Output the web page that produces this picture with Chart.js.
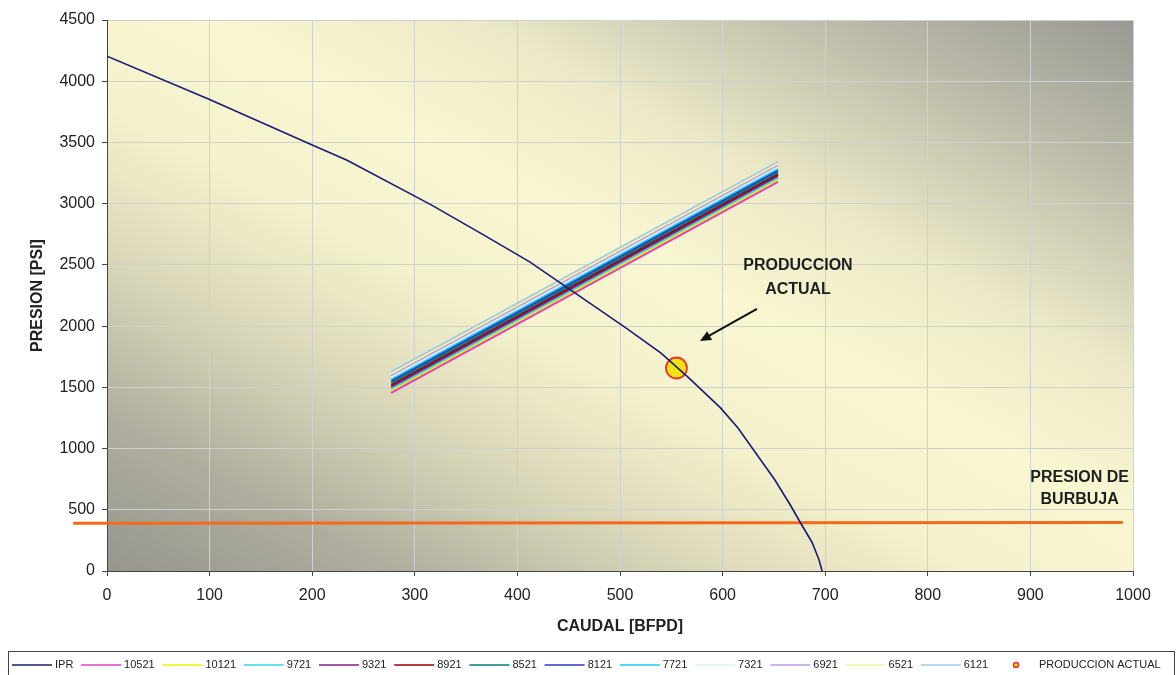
<!DOCTYPE html>
<html>
<head>
<meta charset="utf-8">
<style>
  html, body { margin: 0; padding: 0; background: #ffffff; }
  #wrap { width: 1176px; height: 675px; position: relative; }
</style>
<script src="https://cdn.jsdelivr.net/npm/chart.js@4.4.1/dist/chart.umd.min.js"></script>
</head>
<body>
<div id="wrap"><canvas id="chart" width="1176" height="675"></canvas></div>
<script>
// Inflow performance curve (IPR): caudal [BFPD] vs presion [psi]
const iprQ = [0, 100, 200, 234, 316, 367, 412, 505, 540, 566, 598, 615, 651, 666, 676, 687, 691, 694, 697];
const iprP = [4205, 3850, 3480, 3355, 2990, 2745, 2525, 1990, 1780, 1585, 1332, 1168, 743, 539, 392, 237, 155, 90, 0];

// Outflow curves, one per frequency/setting label
const vlpQ = [277, 654];
const vlpLabels = ['10521', '10121', '9721', '9321', '8921', '8521', '8121', '7721', '7321', '6921', '6521', '6121'];
const vlp10521 = [1454, 3178];
const vlp10121 = [1470, 3193];
const vlp9721  = [1485, 3208];
const vlp9321  = [1501, 3222];
const vlp8921  = [1516, 3237];
const vlp8521  = [1532, 3252];
const vlp8121  = [1548, 3267];
const vlp7721  = [1563, 3282];
const vlp7321  = [1579, 3296];
const vlp6921  = [1594, 3311];
const vlp6521  = [1610, 3326];
const vlp6121  = [1626, 3341];
const vlpColors = ['#e040c8', '#f2f000', '#33d6e8', '#8a1a8a', '#990000', '#008080', '#2a3ab8', '#19c8f5', '#d4f4f8', '#c49ae8', '#f6f29a', '#9cc8f0'];

// Bubble point pressure line
const burbujaQ = [-33, 990];
const burbujaP = [390, 396];

// Current operating point
const actualQ = [555];
const actualP = [1658];

const xTicks = [0, 100, 200, 300, 400, 500, 600, 700, 800, 900, 1000];
const yTicks = [0, 500, 1000, 1500, 2000, 2500, 3000, 3500, 4000, 4500];

const FONT = '"Liberation Sans", Arial, sans-serif';
const pts = (xs, ys) => xs.map((x, i) => ({ x: x, y: ys[i] }));

const vlpSeries = [vlp10521, vlp10121, vlp9721, vlp9321, vlp8921, vlp8521, vlp8121, vlp7721, vlp7321, vlp6921, vlp6521, vlp6121];

const datasets = [
  { label: 'IPR', data: pts(iprQ, iprP), borderColor: '#1a1a78', borderWidth: 1.6, legendType: 'line' }
];
vlpSeries.forEach((s, i) => {
  datasets.push({ label: vlpLabels[i], data: pts(vlpQ, s), borderColor: vlpColors[i], borderWidth: 2, legendType: 'line' });
});
datasets.push({ label: 'PRESION DE BURBUJA', data: pts(burbujaQ, burbujaP), borderColor: '#f4691e', borderWidth: 3, clip: false, legendType: 'none' });
datasets.push({
  label: 'PRODUCCION ACTUAL', data: pts(actualQ, actualP), showLine: false,
  pointRadius: 10.5, pointHoverRadius: 10.5, pointBackgroundColor: '#f2e412', pointBorderColor: '#e8322c', pointBorderWidth: 1.8,
  legendType: 'point'
});
datasets.forEach(d => {
  if (d.showLine === undefined) d.showLine = true;
  if (d.pointRadius === undefined) d.pointRadius = 0;
  d.fill = false;
  d.tension = 0;
});

// Diagonal gray-cream-gray fill behind the plot area
const plotBackground = {
  id: 'plotBackground',
  beforeDraw(chart) {
    const { ctx, chartArea: a } = chart;
    ctx.save();
    ctx.fillStyle = '#ffffff';
    ctx.fillRect(0, 0, chart.width, chart.height);
    const w = a.right - a.left, h = a.bottom - a.top;
    const cx = (a.left + a.right) / 2, cy = (a.top + a.bottom) / 2;
    const len = Math.hypot(h, w);
    const ux = h / len, uy = -w / len;
    const half = (w / 2) * ux + (-h / 2) * uy;
    const g = ctx.createLinearGradient(cx - ux * half, cy - uy * half, cx + ux * half, cy + uy * half);
    g.addColorStop(0.00, '#96968f');
    g.addColorStop(0.14, '#afae9e');
    g.addColorStop(0.28, '#d8d6b8');
    g.addColorStop(0.42, '#f4f2cc');
    g.addColorStop(0.55, '#f9f7d2');
    g.addColorStop(0.68, '#ebe9c7');
    g.addColorStop(0.83, '#c2c1ad');
    g.addColorStop(1.00, '#999994');
    ctx.fillStyle = g;
    ctx.fillRect(a.left, a.top, w, h);
    ctx.restore();
  }
};

// Text labels and arrow drawn at data positions
const notes = {
  id: 'notes',
  afterDatasetsDraw(chart) {
    const { ctx, scales: { x, y } } = chart;
    ctx.save();
    ctx.fillStyle = '#1e1e1e';
    ctx.font = 'bold 16px ' + FONT;
    ctx.textAlign = 'center';
    ctx.textBaseline = 'middle';
    ctx.fillText('PRODUCCION', x.getPixelForValue(673.5), y.getPixelForValue(2492));
    ctx.fillText('ACTUAL', x.getPixelForValue(673.5), y.getPixelForValue(2296));
    ctx.fillText('PRESION DE', x.getPixelForValue(948), y.getPixelForValue(760));
    ctx.fillText('BURBUJA', x.getPixelForValue(948), y.getPixelForValue(580));

    // arrow pointing to the operating point
    const x0 = x.getPixelForValue(633.5), y0 = y.getPixelForValue(2141);
    const x1 = x.getPixelForValue(578), y1 = y.getPixelForValue(1879);
    const ang = Math.atan2(y1 - y0, x1 - x0);
    ctx.strokeStyle = '#111';
    ctx.lineWidth = 2;
    ctx.beginPath();
    ctx.moveTo(x0, y0);
    ctx.lineTo(x1 - 6 * Math.cos(ang), y1 - 6 * Math.sin(ang));
    ctx.stroke();
    ctx.fillStyle = '#111';
    ctx.beginPath();
    ctx.moveTo(x1, y1);
    ctx.lineTo(x1 - 11 * Math.cos(ang) + 5 * Math.sin(ang), y1 - 11 * Math.sin(ang) - 5 * Math.cos(ang));
    ctx.lineTo(x1 - 11 * Math.cos(ang) - 5 * Math.sin(ang), y1 - 11 * Math.sin(ang) + 5 * Math.cos(ang));
    ctx.closePath();
    ctx.fill();
    ctx.restore();
  }
};

// Boxed legend row along the bottom edge
const boxLegend = {
  id: 'boxLegend',
  afterDraw(chart) {
    const { ctx } = chart;
    ctx.save();
    ctx.strokeStyle = '#444';
    ctx.lineWidth = 1;
    ctx.strokeRect(8.5, 651.5, 1166, 30);
    ctx.font = '11px ' + FONT;
    ctx.textBaseline = 'middle';
    ctx.textAlign = 'left';
    const cy = 665;
    let px = 12;
    chart.data.datasets.forEach(d => {
      if (d.legendType === 'none') return;
      if (d.legendType === 'line') {
        ctx.strokeStyle = d.borderColor;
        ctx.lineWidth = 1.5;
        ctx.beginPath();
        ctx.moveTo(px, cy);
        ctx.lineTo(px + 40, cy);
        ctx.stroke();
      } else {
        ctx.beginPath();
        ctx.arc(px + 20, cy, 2.5, 0, Math.PI * 2);
        ctx.fillStyle = d.pointBackgroundColor;
        ctx.fill();
        ctx.strokeStyle = d.pointBorderColor;
        ctx.lineWidth = 1.5;
        ctx.stroke();
      }
      ctx.fillStyle = '#222';
      ctx.fillText(d.label, px + 43, cy);
      px += 43 + ctx.measureText(d.label).width + 7.75;
    });
    ctx.restore();
  }
};

new Chart(document.getElementById('chart'), {
  type: 'scatter',
  data: { datasets: datasets },
  plugins: [plotBackground, notes, boxLegend],
  options: {
    responsive: false,
    animation: false,
    events: [],
    layout: { padding: { top: 20, right: 43, bottom: 30, left: 0 } },
    plugins: { legend: { display: false }, tooltip: { enabled: false } },
    scales: {
      x: {
        type: 'linear', min: 0, max: 1000,
        afterBuildTicks: s => { s.ticks = xTicks.map(v => ({ value: v })); },
        afterFit: s => { s.height = 74; },
        grid: { color: '#d0d0cc', lineWidth: 1, tickLength: 5, tickColor: '#444' },
        border: { color: '#444', width: 1 },
        ticks: { color: '#222', font: { family: FONT, size: 16 }, padding: 10, maxRotation: 0, callback: v => String(v) },
        title: { display: true, text: 'CAUDAL [BFPD]', color: '#222', font: { family: FONT, size: 16, weight: 'bold' }, padding: { top: 0, bottom: 8.4 } }
      },
      y: {
        type: 'linear', min: 0, max: 4500,
        afterBuildTicks: s => { s.ticks = yTicks.map(v => ({ value: v })); },
        afterFit: s => { s.width = 107; },
        grid: { color: '#d0d0cc', lineWidth: 1, tickLength: 5, tickColor: '#444' },
        border: { color: '#444', width: 1 },
        ticks: { color: '#222', font: { family: FONT, size: 16 }, padding: 7, callback: v => String(v) },
        title: { display: true, text: 'PRESION [PSI]', color: '#222', font: { family: FONT, size: 16, weight: 'bold' }, padding: { top: 28.4, bottom: 0 } }
      }
    }
  }
});
</script>
</body>
</html>
